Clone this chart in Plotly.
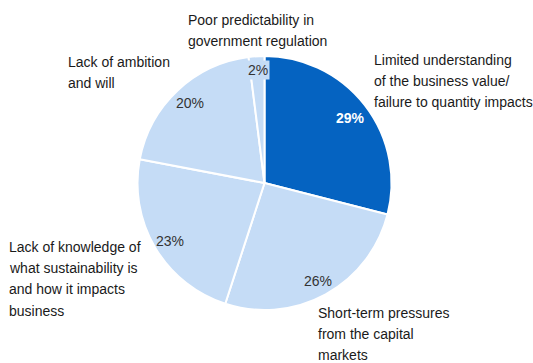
import plotly.graph_objects as go

W, H = 533, 363

categories = [
    "Limited understanding of the business value/ failure to quantity impacts",
    "Short-term pressures from the capital markets",
    "Lack of knowledge of what sustainability is and how it impacts business",
    "Lack of ambition and will",
    "Poor predictability in government regulation",
]
values = [29, 26, 23, 20, 2]
label_lines = [
    ["Limited understanding", "of the business value/", "failure to quantity impacts"],
    ["Short-term pressures", "from the capital", "markets"],
    ["Lack of knowledge of", "what sustainability is", "and how it impacts", "business"],
    ["Lack of ambition", "and will"],
    ["Poor predictability in", "government regulation"],
]
colors = ["#0563c1", "#c5dcf6", "#c5dcf6", "#c5dcf6", "#c5dcf6"]
pct_colors = ["#ffffff", "#333333", "#333333", "#333333", "#333333"]
pct_bold = [True, False, False, False, False]

# layout positions (pixels)
pct_pos = [(350, 118), (318, 281), (170, 241), (190, 103), (258, 70)]
label_pos = [(372, 60), (316, 313), (7, 247), (66, 62), (186, 20)]
line_gap = 21.2

fig = go.Figure(go.Pie(
    labels=categories,
    values=values,
    sort=False,
    direction="clockwise",
    rotation=0,
    marker=dict(colors=colors, line=dict(color="white", width=2)),
    textinfo="none",
    hoverinfo="label+percent",
    domain=dict(x=[137/W, 392/W], y=[1-310/H, 1-56/H]),
    showlegend=False,
))

ann = []
for v, (px, py), c, b in zip(values, pct_pos, pct_colors, pct_bold):
    t = f"{v}%"
    if b:
        t = f"<b>{t}</b>"
    ann.append(dict(x=px/W, y=1-py/H, xref="paper", yref="paper", text=t,
                    showarrow=False, xanchor="center", yanchor="middle",
                    font=dict(family="Liberation Sans, Arial", size=14, color=c),
                    bgcolor="#c5dcf6" if v == 2 else None))
for lines, (px, py) in zip(label_lines, label_pos):
    for i, ln in enumerate(lines):
        ann.append(dict(x=px/W, y=1-(py+i*line_gap)/H, xref="paper", yref="paper",
                        text=ln, showarrow=False, xanchor="left", yanchor="middle",
                        font=dict(family="Liberation Sans, Arial", size=14, color="#1a1a1a")))

fig.update_layout(
    width=W, height=H,
    margin=dict(l=0, r=0, t=0, b=0),
    paper_bgcolor="white", plot_bgcolor="white",
    annotations=ann,
)
fig.write_html("out.html")
